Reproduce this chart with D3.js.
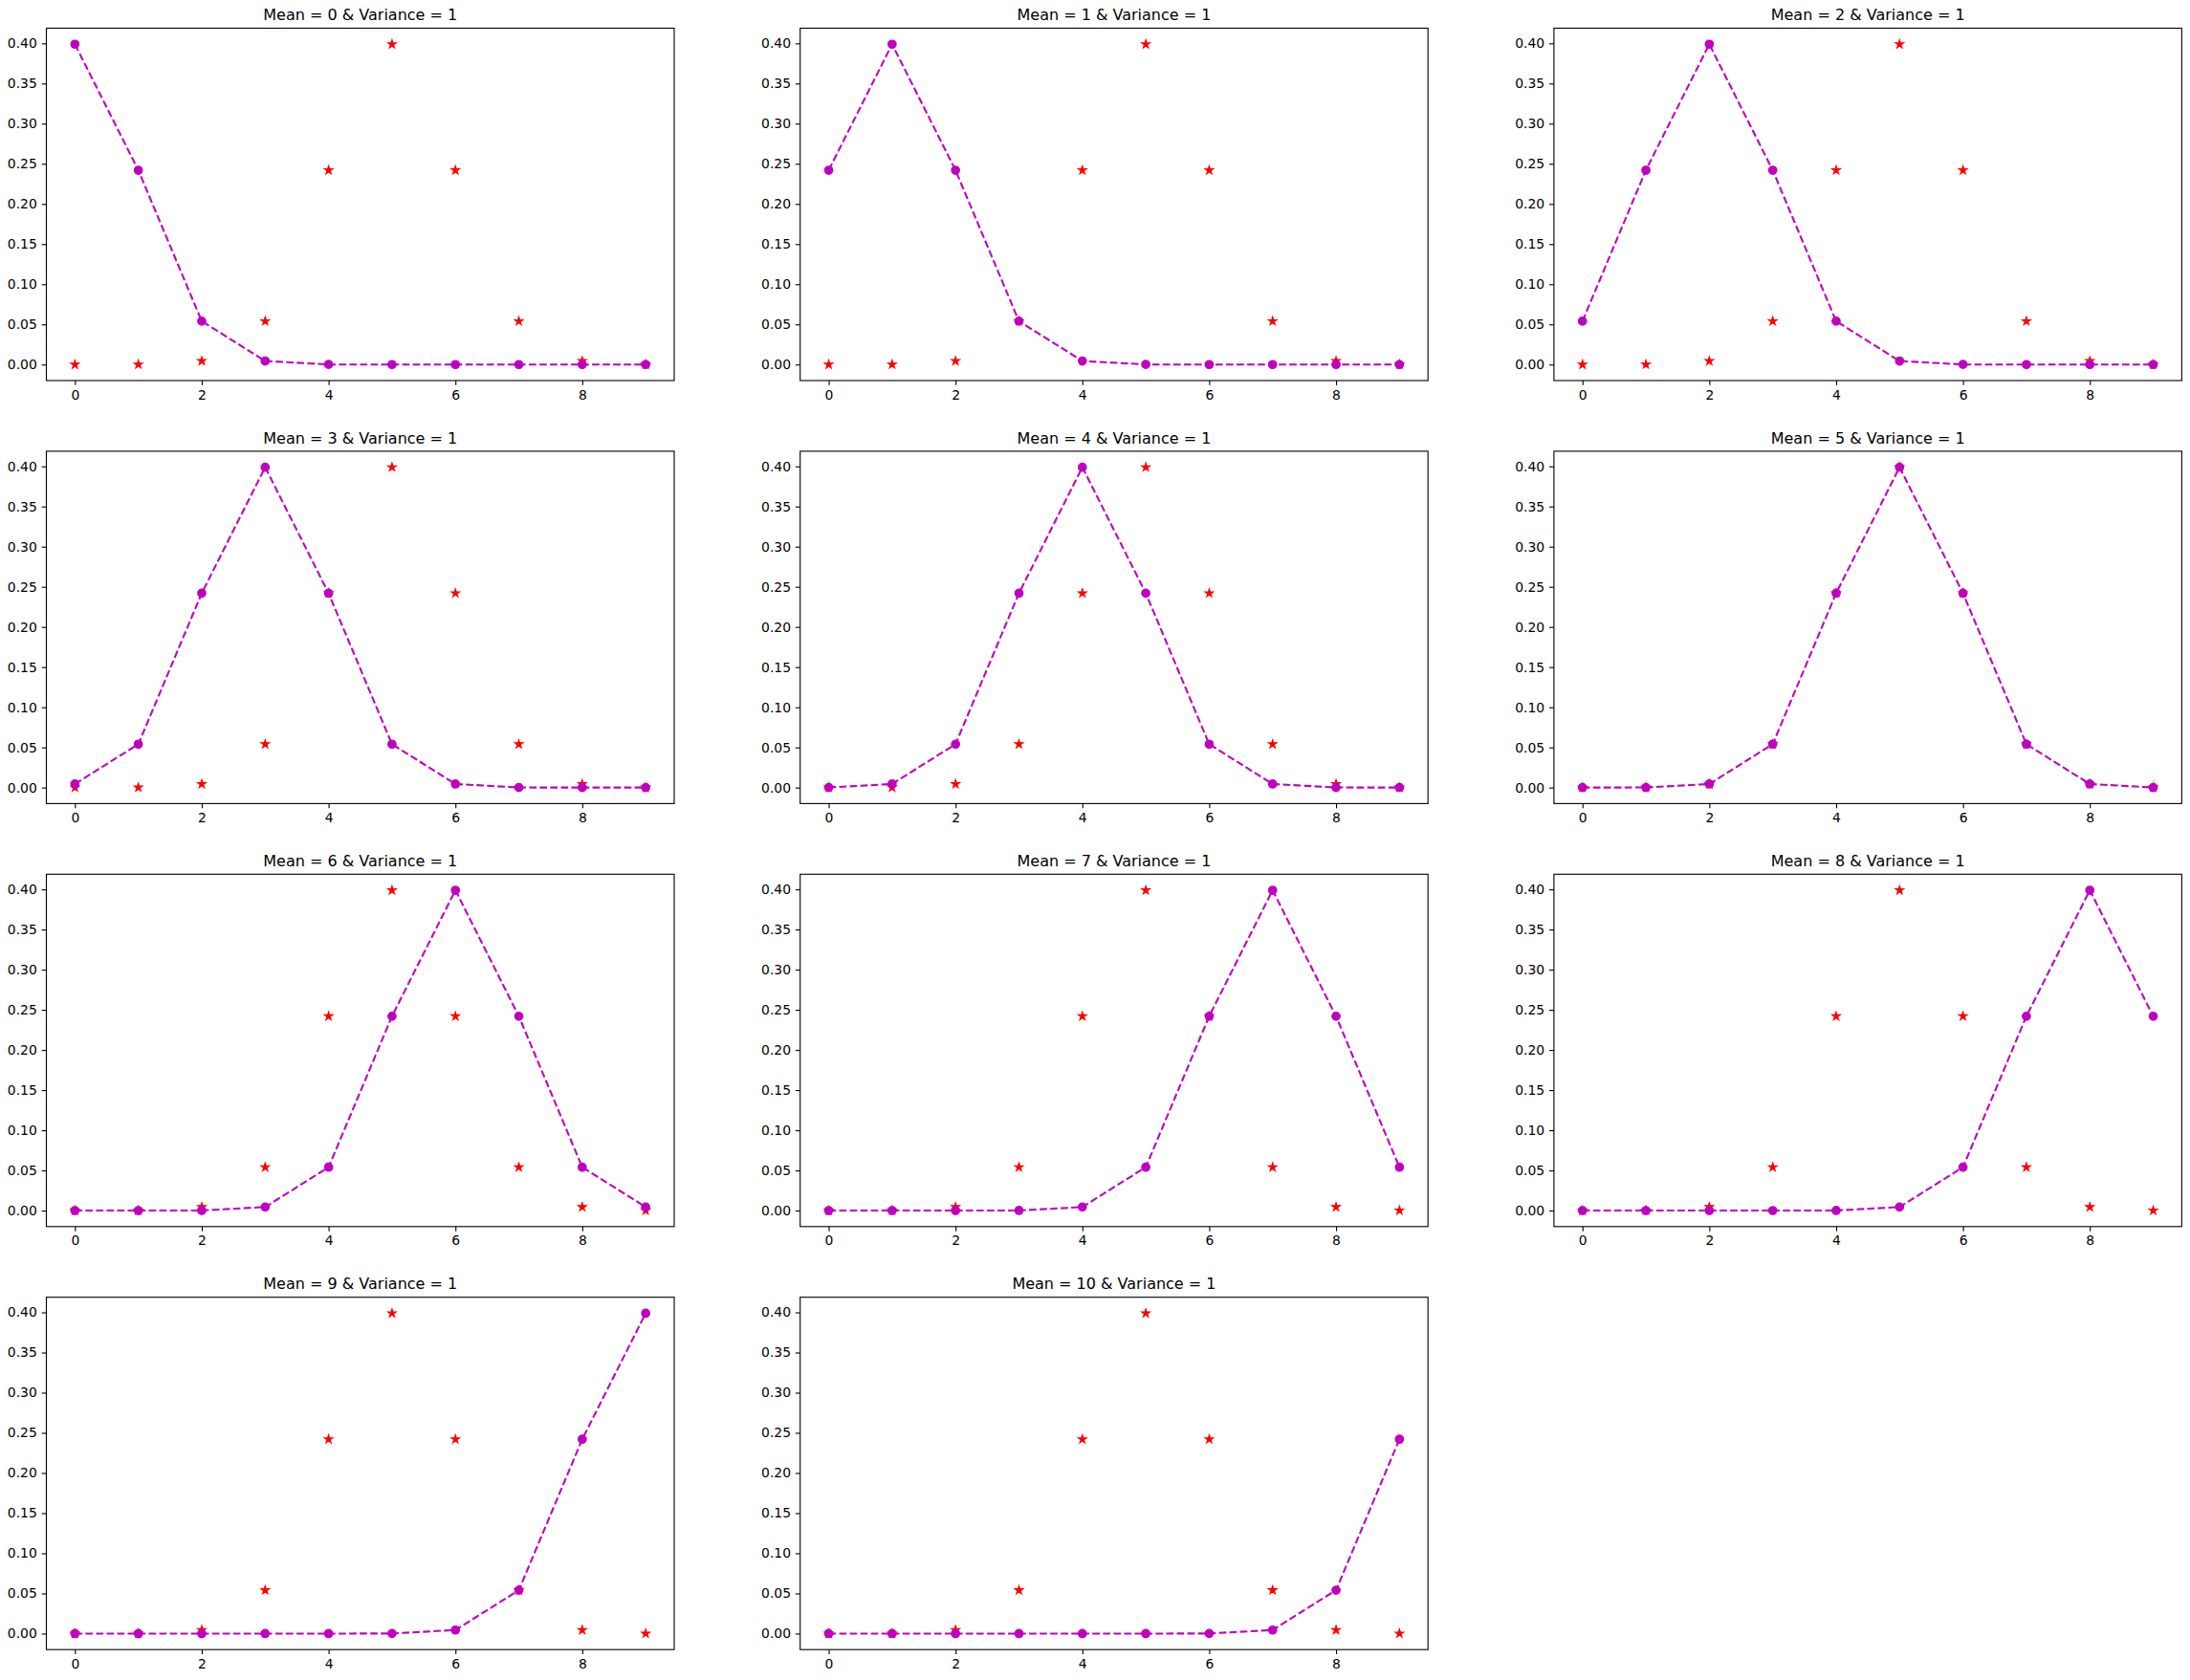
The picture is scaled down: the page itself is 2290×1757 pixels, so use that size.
<!DOCTYPE html>
<html>
<head>
<meta charset="utf-8">
<script src="https://cdn.jsdelivr.net/npm/d3@7"></script>
<style>
  html, body { margin: 0; padding: 0; background: #fff; }
  svg { display: block; }
  text { font-family: "DejaVu Sans", sans-serif; fill: #000; }
</style>
</head>
<body>
<script>
// ---- data ----
const xValues = [0, 1, 2, 3, 4, 5, 6, 7, 8, 9];
const means = [0, 1, 2, 3, 4, 5, 6, 7, 8, 9, 10];
const variance = 1;
// reference points (red stars), identical in every panel
const starValues = [0, 0.0001, 0.0044, 0.0540, 0.2420, 0.3989, 0.2420, 0.0540, 0.0044, 0.0001];
// magenta dashed curves, one per mean
const curve0  = [0.3989, 0.2420, 0.0540, 0.0044, 0.0001, 0, 0, 0, 0, 0];
const curve1  = [0.2420, 0.3989, 0.2420, 0.0540, 0.0044, 0.0001, 0, 0, 0, 0];
const curve2  = [0.0540, 0.2420, 0.3989, 0.2420, 0.0540, 0.0044, 0.0001, 0, 0, 0];
const curve3  = [0.0044, 0.0540, 0.2420, 0.3989, 0.2420, 0.0540, 0.0044, 0.0001, 0, 0];
const curve4  = [0.0001, 0.0044, 0.0540, 0.2420, 0.3989, 0.2420, 0.0540, 0.0044, 0.0001, 0];
const curve5  = [0, 0.0001, 0.0044, 0.0540, 0.2420, 0.3989, 0.2420, 0.0540, 0.0044, 0.0001];
const curve6  = [0, 0, 0.0001, 0.0044, 0.0540, 0.2420, 0.3989, 0.2420, 0.0540, 0.0044];
const curve7  = [0, 0, 0, 0.0001, 0.0044, 0.0540, 0.2420, 0.3989, 0.2420, 0.0540];
const curve8  = [0, 0, 0, 0, 0.0001, 0.0044, 0.0540, 0.2420, 0.3989, 0.2420];
const curve9  = [0, 0, 0, 0, 0, 0.0001, 0.0044, 0.0540, 0.2420, 0.3989];
const curve10 = [0, 0, 0, 0, 0, 0, 0.0001, 0.0044, 0.0540, 0.2420];
const curves = [curve0, curve1, curve2, curve3, curve4, curve5, curve6, curve7, curve8, curve9, curve10];
const xTicks = [0, 2, 4, 6, 8];
const yTicks = [0, 0.05, 0.10, 0.15, 0.20, 0.25, 0.30, 0.35, 0.40];

// ---- layout ----
const W = 2290, H = 1757;
const colLeft = [48.5, 836.7, 1624.9];
const rowTop = [29.5, 471.9, 914.3, 1356.7];
const pw = 656.5, ph = 368.5;
const magenta = "#bf00bf", red = "#ff0000";
const tickLen = 4.86, tickPad = 4.86;

const svg = d3.select("body").append("svg").attr("width", W).attr("height", H);

function starPath(R) {
  const r = R * 0.381966;
  const pts = [];
  for (let i = 0; i < 10; i++) {
    const a = -Math.PI / 2 + i * Math.PI / 5;
    const rr = i % 2 === 0 ? R : r;
    pts.push([rr * Math.cos(a), rr * Math.sin(a)]);
  }
  return "M" + pts.map(p => p[0].toFixed(2) + "," + p[1].toFixed(2)).join("L") + "Z";
}
const star = starPath(4.17);

means.forEach((m, i) => {
  const vals = curves[i];
  const col = i % 3, row = Math.floor(i / 3);
  const g = svg.append("g").attr("transform", `translate(${colLeft[col]},${rowTop[row]})`);

  const allVals = vals.concat(starValues);
  const ymin = d3.min(allVals), ymax = d3.max(allVals);
  const ypad = (ymax - ymin) * 0.05;
  const x = d3.scaleLinear().domain([-0.45, 9.45]).range([0, pw]);
  const y = d3.scaleLinear().domain([ymin - ypad, ymax + ypad]).range([ph, 0]);

  // stars (underneath)
  g.append("g").selectAll("path").data(xValues).join("path")
    .attr("d", star)
    .attr("transform", (d, j) => `translate(${x(d)},${y(starValues[j])})`)
    .attr("fill", red).attr("stroke", red).attr("stroke-width", 1.39).attr("stroke-linejoin", "miter");

  // dashed line
  const line = d3.line().x((d, j) => x(xValues[j])).y(d => y(d));
  g.append("path").datum(vals).attr("d", line)
    .attr("fill", "none").attr("stroke", magenta).attr("stroke-width", 2.08)
    .attr("stroke-dasharray", "7.7,3.33");

  // circles
  g.append("g").selectAll("circle").data(vals).join("circle")
    .attr("cx", (d, j) => x(xValues[j])).attr("cy", d => y(d)).attr("r", 4.17)
    .attr("fill", magenta).attr("stroke", magenta).attr("stroke-width", 1.39);

  // axes
  const xAxis = d3.axisBottom(x).tickValues(xTicks).tickFormat(d3.format("d"))
    .tickSize(tickLen).tickPadding(tickPad);
  const yAxis = d3.axisLeft(y).tickValues(yTicks).tickFormat(d3.format(".2f"))
    .tickSize(tickLen).tickPadding(tickPad);
  const gx = g.append("g").attr("transform", `translate(0,${ph})`).call(xAxis);
  const gy = g.append("g").call(yAxis);
  [gx, gy].forEach(a => {
    a.select(".domain").remove();
    a.selectAll("line").attr("stroke", "#000").attr("stroke-width", 1.11);
    a.selectAll("text").attr("font-size", "13.9px").attr("font-family", "DejaVu Sans, sans-serif").attr("fill", "#000");
  });

  // frame
  g.append("rect").attr("x", 0).attr("y", 0).attr("width", pw).attr("height", ph)
    .attr("fill", "none").attr("stroke", "#000").attr("stroke-width", 1.11);

  // title
  g.append("text").attr("x", pw / 2).attr("y", -8.33).attr("text-anchor", "middle")
    .attr("font-size", "16px").text(`Mean = ${m} & Variance = ${variance}`);
});
</script>
</body>
</html>
